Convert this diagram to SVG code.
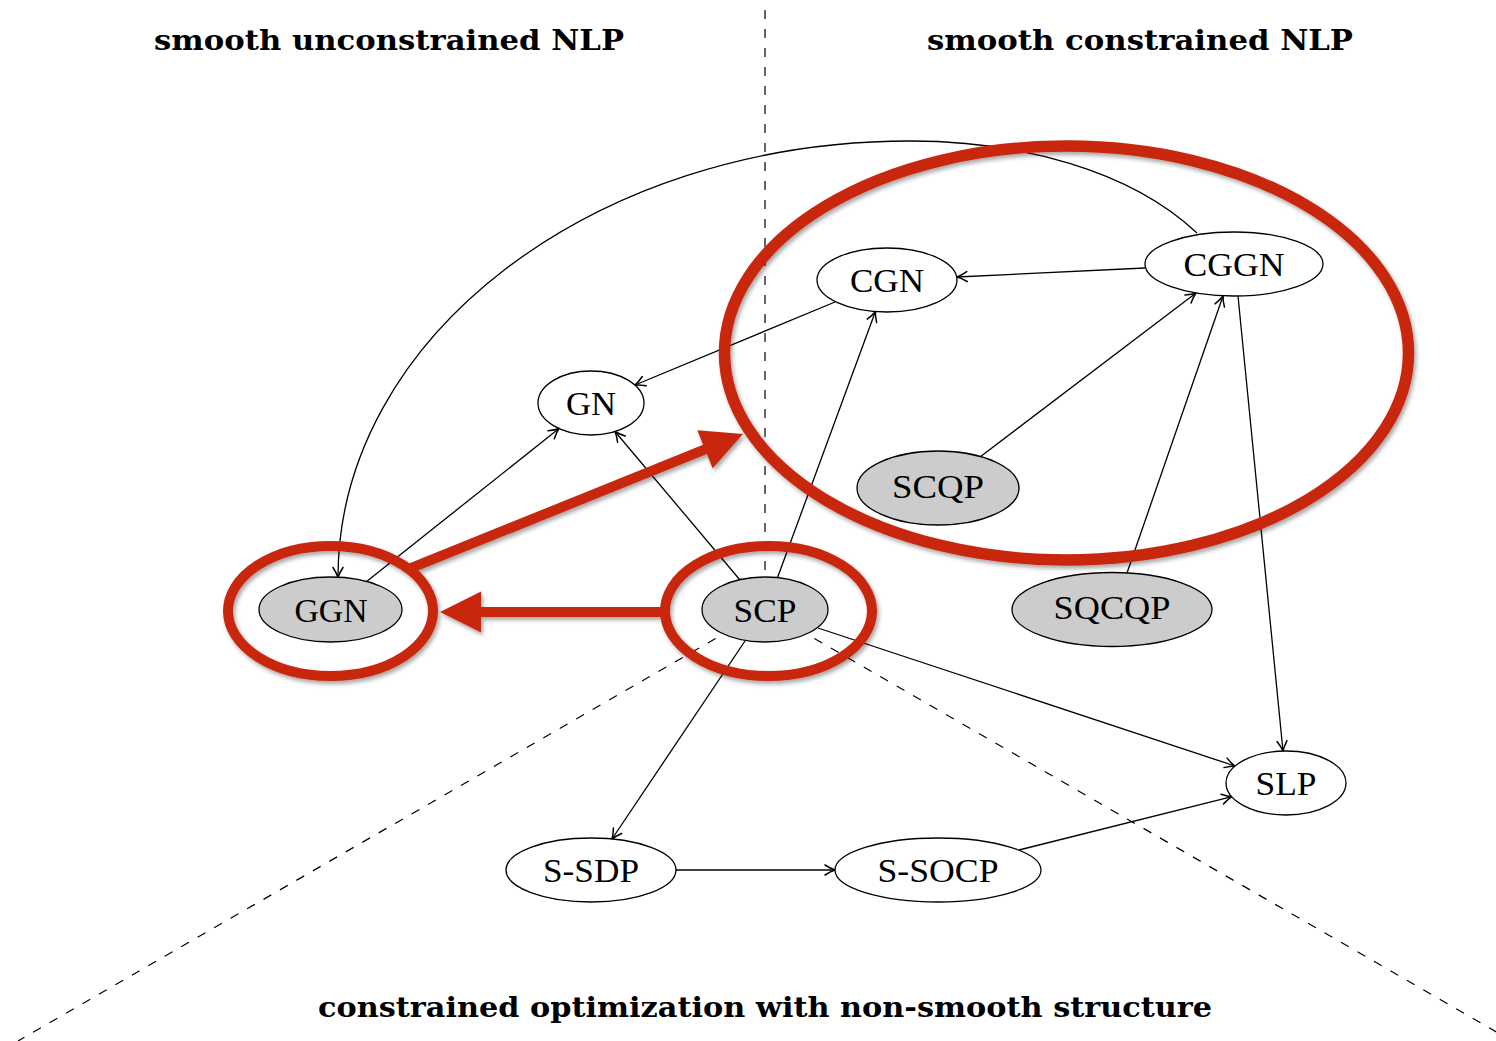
<svg xmlns="http://www.w3.org/2000/svg" width="1496" height="1041" viewBox="0 0 1496 1041">
  <defs>
    <marker id="tip" markerUnits="userSpaceOnUse" markerWidth="16" markerHeight="16" viewBox="-13 -8 16 16" refX="0" refY="0" orient="auto">
      <path d="M-10,-5 Q-4,-1.2 0,0 Q-4,1.2 -10,5" fill="none" stroke="#000" stroke-width="1.5" stroke-linecap="round"/>
    </marker>
    <filter id="shade" x="-10%" y="-10%" width="120%" height="130%">
      <feDropShadow dx="2" dy="3" stdDeviation="2.2" flood-color="#000" flood-opacity="0.35"/>
    </filter>
  </defs>
  <style>
    .title { font-family: "DejaVu Serif", "Liberation Serif", serif; font-weight: bold; font-size: 27px; fill: #000; }
    .node ellipse { fill: #fff; stroke: #000; stroke-width: 1.3; }
    .node.shaded ellipse { fill: #cccccc; }
    .node text { font-family: "Liberation Serif", "Times New Roman", serif; font-size: 34px; fill: #000; text-anchor: middle; }
    .edge { fill: none; stroke: #000; stroke-width: 1.3; marker-end: url(#tip); }
    .sector { fill: none; stroke: #000; stroke-width: 1.2; stroke-dasharray: 9 10; }
    .ring { fill: none; stroke: #c8260a; }
    .bigarrow { fill: #c8260a; }
  </style>
  <rect width="1496" height="1041" fill="#fff"/>

  <!-- region titles -->
  <g id="titles">
    <text class="title" x="389" y="50" text-anchor="middle" textLength="470" lengthAdjust="spacingAndGlyphs">smooth unconstrained NLP</text>
    <text class="title" x="1140" y="50" text-anchor="middle" textLength="426" lengthAdjust="spacingAndGlyphs">smooth constrained NLP</text>
    <text class="title" x="765" y="1017" text-anchor="middle" textLength="894" lengthAdjust="spacingAndGlyphs">constrained optimization with non-smooth structure</text>
  </g>

  <!-- dashed region boundaries, meeting at SCP -->
  <g id="sectors">
    <line class="sector" x1="765" y1="10" x2="765" y2="610"/>
    <line class="sector" x1="765" y1="610" x2="18" y2="1041"/>
    <line class="sector" x1="765" y1="610" x2="1512" y2="1041"/>
  </g>

  <!-- connectors -->
  <g id="connectors">
    <path class="edge" d="M1197,233 C1130,170 1020,141 910,141 C594,141 338,337 338,577.5"/>
    <line class="edge" x1="1145" y1="268" x2="957" y2="277"/>
    <line class="edge" x1="835" y1="302" x2="635" y2="385"/>
    <line class="edge" x1="366" y1="582" x2="559" y2="428.5"/>
    <line class="edge" x1="740" y1="580" x2="615" y2="431.5"/>
    <line class="edge" x1="777" y1="579" x2="875.4" y2="311.5"/>
    <line class="edge" x1="980" y1="457" x2="1196" y2="293"/>
    <line class="edge" x1="1127" y1="573" x2="1223" y2="296"/>
    <line class="edge" x1="1238" y1="296" x2="1283" y2="751"/>
    <line class="edge" x1="818" y1="628" x2="1235" y2="766"/>
    <line class="edge" x1="745" y1="641" x2="612" y2="839"/>
    <line class="edge" x1="676" y1="870" x2="835" y2="870"/>
    <line class="edge" x1="1019" y1="850" x2="1232" y2="796.6"/>
  </g>

  <!-- nodes -->
  <g id="node-GGN" class="node shaded">
    <ellipse cx="330.5" cy="609.5" rx="71.5" ry="32.5"/>
    <text x="331" y="622" textLength="73" lengthAdjust="spacingAndGlyphs">GGN</text>
  </g>
  <g id="node-GN" class="node">
    <ellipse cx="591" cy="403" rx="53" ry="32"/>
    <text x="591" y="415" textLength="50" lengthAdjust="spacingAndGlyphs">GN</text>
  </g>
  <g id="node-SCP" class="node shaded">
    <ellipse cx="765" cy="609.5" rx="63" ry="32.5"/>
    <text x="765" y="622" textLength="63" lengthAdjust="spacingAndGlyphs">SCP</text>
  </g>
  <g id="node-CGN" class="node">
    <ellipse cx="887" cy="280" rx="70" ry="32"/>
    <text x="887" y="292" textLength="74" lengthAdjust="spacingAndGlyphs">CGN</text>
  </g>
  <g id="node-CGGN" class="node">
    <ellipse cx="1234" cy="264" rx="89" ry="32"/>
    <text x="1234" y="276" textLength="101" lengthAdjust="spacingAndGlyphs">CGGN</text>
  </g>
  <g id="node-SCQP" class="node shaded">
    <ellipse cx="938" cy="488" rx="81" ry="37"/>
    <text x="938" y="498" textLength="92" lengthAdjust="spacingAndGlyphs">SCQP</text>
  </g>
  <g id="node-SQCQP" class="node shaded">
    <ellipse cx="1112" cy="609.5" rx="100" ry="37"/>
    <text x="1112" y="619" textLength="117" lengthAdjust="spacingAndGlyphs">SQCQP</text>
  </g>
  <g id="node-SLP" class="node">
    <ellipse cx="1286" cy="783" rx="60" ry="32"/>
    <text x="1286" y="795" textLength="61" lengthAdjust="spacingAndGlyphs">SLP</text>
  </g>
  <g id="node-S-SDP" class="node">
    <ellipse cx="591" cy="870" rx="85" ry="32"/>
    <text x="591" y="882" textLength="96" lengthAdjust="spacingAndGlyphs">S-SDP</text>
  </g>
  <g id="node-S-SOCP" class="node">
    <ellipse cx="938" cy="870" rx="103" ry="32"/>
    <text x="938" y="882" textLength="121" lengthAdjust="spacingAndGlyphs">S-SOCP</text>
  </g>

  <!-- red highlight rings and arrows -->
  <g id="highlights" filter="url(#shade)">
    <ellipse class="ring" cx="1066.5" cy="353" rx="342" ry="207" stroke-width="11.5"/>
    <ellipse class="ring" cx="330.5" cy="611" rx="102.5" ry="65" stroke-width="10"/>
    <ellipse class="ring" cx="768.5" cy="611" rx="103.5" ry="65" stroke-width="10"/>
    <polygon class="bigarrow" transform="translate(743,434) rotate(-22)" points="0,0 -41,-20.5 -41,-5 -359,-5 -359,5 -41,5 -41,20.5"/>
    <polygon class="bigarrow" transform="translate(440,612) rotate(180)" points="0,0 -41,-20.5 -41,-5 -222,-5 -222,5 -41,5 -41,20.5"/>
  </g>
</svg>
